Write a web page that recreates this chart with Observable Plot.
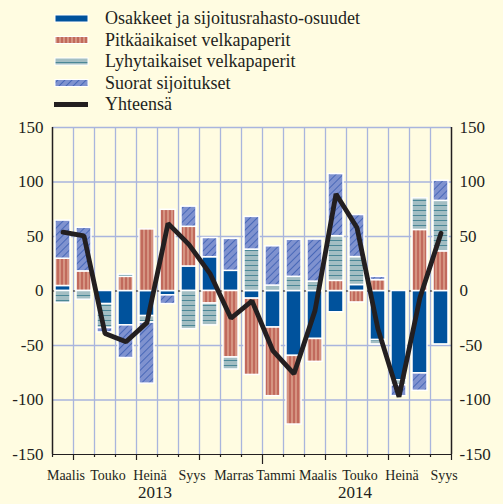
<!DOCTYPE html>
<html>
<head>
<meta charset="utf-8">
<script src="https://cdn.jsdelivr.net/npm/d3@7"></script>
<script src="https://cdn.jsdelivr.net/npm/@observablehq/plot@0.6"></script>
<style>
  html, body { margin: 0; padding: 0; background: #fffce1; }
  #wrap { width: 503px; height: 504px; overflow: hidden; background: #fffce1; }
  svg text { font-family: "Liberation Serif", "Times New Roman", serif; }
</style>
</head>
<body>
<svg width="0" height="0" style="position:absolute">
  <defs>
    <pattern id="pRed" width="4" height="4" patternUnits="userSpaceOnUse">
      <rect width="4" height="4" fill="#d59481"></rect>
      <line x1="2" y1="0" x2="2" y2="4" stroke="#a8362f" stroke-width="0.9"></line>
    </pattern>
    <pattern id="pLight" width="5" height="5" patternUnits="userSpaceOnUse">
      <rect width="5" height="5" fill="#a3bec3"></rect>
      <line x1="0" y1="2.5" x2="5" y2="2.5" stroke="#4b8796" stroke-width="1"></line>
    </pattern>
    <pattern id="pHatch" width="5" height="5" patternUnits="userSpaceOnUse" patternTransform="rotate(45)">
      <rect width="5" height="5" fill="#7f92cf"></rect>
      <line x1="2.5" y1="0" x2="2.5" y2="5" stroke="#3a5db3" stroke-width="0.8"></line>
    </pattern>
  </defs>
</svg>
<div id="wrap">
  <div id="legend"></div>
  <div id="chart"></div>
</div>
<script>
// ---- data ----
const months = ["2013-03","2013-04","2013-05","2013-06","2013-07","2013-08","2013-09","2013-10","2013-11","2013-12",
                "2014-01","2014-02","2014-03","2014-04","2014-05","2014-06","2014-07","2014-08","2014-09"];
const monthNames = {"03":"Maalis","05":"Touko","07":"Heinä","09":"Syys","11":"Marras","01":"Tammi"};
const labeledMonths = ["2013-03","2013-05","2013-07","2013-09","2013-11","2014-01","2014-03","2014-05","2014-07","2014-09"];
const seriesNames = ["Osakkeet ja sijoitusrahasto-osuudet","Pitkäaikaiset velkapaperit","Lyhytaikaiset velkapaperit","Suorat sijoitukset"];
const totalName = "Yhteensä";
const osakkeet = [4.6, 0, -12, -31.5, -23, -4, 22.5, 31, 18.5, -7, -33.5, -59.5, -44, -19.5, 5.5, -45, -82, -75.6, -49];
const pitka    = [25, 18, 0, 13, 56.5, 74.5, 36.4, -11.5, -61, -70, -63, -63, -21, 9.3, -10.5, 10, 0, 56, 36.4];
const lyhyt    = [-11, -8, -22, 2, -6, 0, -35, -20, -11, 38, 5, 13, 8.6, 41, 25.6, -4, -4.5, 29, 46.3];
const suorat   = [35, 40, -4, -30, -56, -8, 18.5, 17.6, 29.3, 30, 36, 34, 38.6, 57, 38.6, 3, -10, -16, 18.5];
const yhteensa = [54, 50.5, -39, -46.5, -29, 62, 42.5, 16, -25, -9, -55, -76, -18, 89, 58, -35, -97, -6, 53];
const yTicks = [-150, -100, -50, 0, 50, 100, 150];
const years = ["2013", "2014"];

// ---- styles ----
const fills = ["#00529c", "url(#pRed)", "url(#pLight)", "url(#pHatch)"];
const ink = "#231f20";
const gridColor = "#a9b5dd";

const seriesValues = [osakkeet, pitka, lyhyt, suorat];
const rows = [];
seriesNames.forEach((s, si) => {
  months.forEach((m, i) => {
    const v = seriesValues[si][i];
    if (v !== 0) rows.push({month: m, series: s, value: v});
  });
});
const totals = months.map((m, i) => ({month: m, value: yhteensa[i]}));

// ---- legend (SVG text) ----
const legendItems = [...seriesNames.map((s, i) => ({name: s, fill: fills[i]})), {name: totalName, fill: ink, line: true}];
const lg = d3.select("#legend").append("svg").attr("width", 503).attr("height", 118).style("display", "block");
legendItems.forEach((it, i) => {
  const cy = 18.5 + i * 21.5;
  if (it.line) {
    lg.append("rect").attr("x", 54).attr("y", cy - 2.5).attr("width", 34).attr("height", 5).attr("fill", ink);
  } else {
    lg.append("rect").attr("x", 55).attr("y", cy - 3.5).attr("width", 33).attr("height", 7)
      .attr("fill", it.fill).attr("stroke", "#ffffff").attr("stroke-width", 1);
  }
  lg.append("text").attr("x", 105).attr("y", cy + 5.5).attr("font-size", 18).attr("fill", ink).text(it.name);
});

// ---- chart ----
const pxPerUnit = 327 / 300;
const tickLen = (px) => -150 - px / pxPerUnit;
const quarterStarts = ["2013-04","2013-07","2013-10","2014-04","2014-07"];
const yearStarts = ["2014-01"];
const shortStarts = months.filter(m => !quarterStarts.includes(m) && !yearStarts.includes(m));

const chart = Plot.plot({
  width: 503,
  height: 386,
  marginTop: 9,
  marginBottom: 50,
  marginLeft: 52,
  marginRight: 52,
  style: {background: "transparent", fontFamily: "Liberation Serif", color: ink},
  x: {domain: months, type: "band", paddingInner: 0.3, paddingOuter: 0.15, axis: null},
  y: {domain: [-150, 150], axis: null},
  color: {domain: seriesNames, range: fills},
  marks: [
    Plot.ruleY(yTicks.filter(t => t !== 0 && t !== -150), {stroke: gridColor, strokeWidth: 1.3}),
    Plot.ruleX(months.slice(0, -1), {x: d => d, dx: 10.5, y1: -150, y2: 150, stroke: gridColor, strokeWidth: 1.3}),
    Plot.ruleY([0], {stroke: ink, strokeWidth: 1.2, strokeDasharray: "4,3"}),
    Plot.barY(rows, Plot.stackY({x: "month", y: "value", fill: "series", stroke: "#ffffff", strokeWidth: 1.5})),
    Plot.lineY(totals, {x: "month", y: "value", stroke: ink, strokeWidth: 4.8, strokeLinejoin: "miter"}),
    // frame lines
    Plot.ruleY([-150], {stroke: ink, strokeWidth: 1.2}),
    Plot.ruleX([months[0]], {x: d => d, dx: -10.5, y1: -150, y2: 150, stroke: ink, strokeWidth: 1.5}),
    Plot.ruleX([months[months.length - 1]], {x: d => d, dx: 10.5, y1: -150, y2: 150, stroke: ink, strokeWidth: 1.5}),
    // bottom ticks at month boundaries
    Plot.ruleX(shortStarts, {x: d => d, dx: -10.5, y1: -150, y2: tickLen(3), stroke: ink, strokeWidth: 1.2}),
    Plot.ruleX(quarterStarts, {x: d => d, dx: -10.5, y1: -150, y2: tickLen(6), stroke: ink, strokeWidth: 1.2}),
    Plot.ruleX(yearStarts, {x: d => d, dx: -10.5, y1: -150, y2: tickLen(10), stroke: ink, strokeWidth: 1.2}),
    Plot.ruleX([months[months.length - 1]], {x: d => d, dx: 10.5, y1: -150, y2: tickLen(6), stroke: ink, strokeWidth: 1.2}),
    // axes
    Plot.axisY({anchor: "left", ticks: yTicks, tickSize: 0, tickPadding: 9, fontSize: 17, tickFormat: d => String(d), label: null}),
    Plot.axisY({anchor: "right", ticks: yTicks, tickSize: 0, tickPadding: 8, fontSize: 17, tickFormat: d => String(d), label: null}),
    Plot.axisX({ticks: labeledMonths, tickSize: 0, tickPadding: 16, fontSize: 14, dx: 3, tickFormat: d => monthNames[d.slice(5)], label: null}),
    Plot.text([years[0]], {x: () => "2013-07", frameAnchor: "bottom", dx: 8, dy: 43.5, text: d => d, fontSize: 17, fill: ink}),
    Plot.text([years[1]], {x: () => "2014-05", frameAnchor: "bottom", dx: -2, dy: 43.5, text: d => d, fontSize: 17, fill: ink})
  ]
});
document.getElementById("chart").appendChild(chart);
</script>
</body>
</html>
